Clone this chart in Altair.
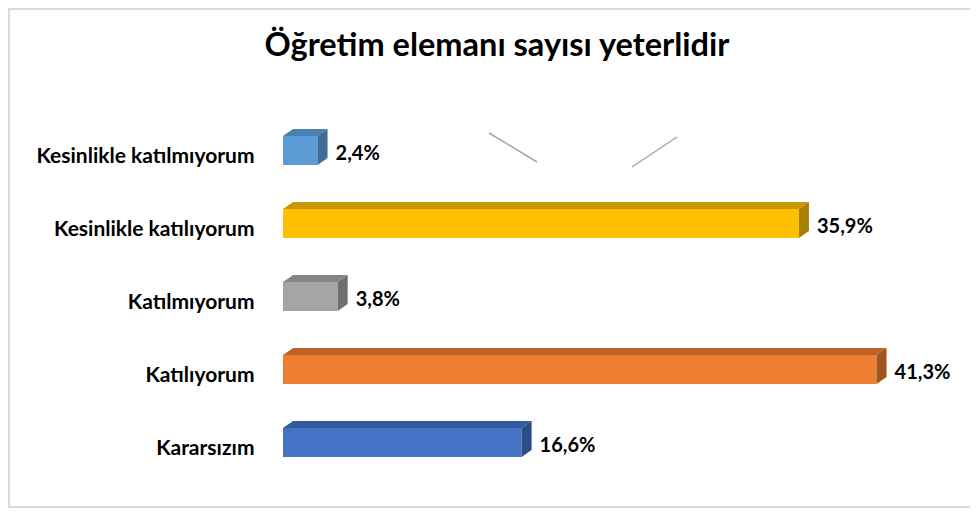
import json
import altair as alt
import pandas as pd

# ---- data -------------------------------------------------------------
title_text = "Öğretim elemanı sayısı yeterlidir"
categories = [
    "Kesinlikle katılmıyorum",
    "Kesinlikle katılıyorum",
    "Katılmıyorum",
    "Katılıyorum",
    "Kararsızım",
]
values = [2.4, 35.9, 3.8, 41.3, 16.6]
front_colors = ["#5B9BD5", "#FFC000", "#A5A5A5", "#ED7D31", "#4472C4"]
top_colors = ["#4A7FB0", "#C79700", "#858585", "#BE6327", "#345A9E"]
side_colors = ["#3E6C96", "#A87F00", "#6F6F6F", "#A2541F", "#2B4C86"]

# ---- geometry (data units) -------------------------------------------
HALF = 0.2          # half thickness of the bar front face (category units)
DX = 0.70           # depth in % units
DY = 0.096          # depth in category units
X_MAX = 46
Y_DOM = [-0.9, 4.89]
PX_PER_PCT = 14.37
PX_PER_CAT = 73
W = X_MAX * PX_PER_PCT
H = (Y_DOM[1] - Y_DOM[0]) * PX_PER_CAT
PAD_L, PAD_T = 275, 76.8
SVG_W, SVG_H = 962, 500

front = pd.DataFrame({
    "cat": categories,
    "idx": range(len(categories)),
    "v": values,
    "c": front_colors,
})
front["y0"] = front["idx"] - HALF
front["y1"] = front["idx"] + HALF
front["lab"] = [f"{v:.1f}".replace(".", ",") + "%" for v in values]

top_rows, side_rows = [], []
for i, (cat, v) in enumerate(zip(categories, values)):
    top_rows.append({"cat": cat, "y": i - HALF, "x0": 0, "x1": v, "c": top_colors[i]})
    top_rows.append({"cat": cat, "y": i - HALF - DY, "x0": DX, "x1": v + DX, "c": top_colors[i]})
    side_rows.append({"cat": cat, "x": v, "y0": i - HALF, "y1": i + HALF, "c": side_colors[i]})
    side_rows.append({"cat": cat, "x": v + DX, "y0": i - HALF - DY, "y1": i + HALF - DY, "c": side_colors[i]})
top = pd.DataFrame(top_rows)
side = pd.DataFrame(side_rows)

xscale = alt.Scale(domain=[0, X_MAX], nice=False, zero=False)
yscale = alt.Scale(domain=Y_DOM, reverse=True, nice=False, zero=False)

label_expr = json.dumps(categories, ensure_ascii=False) + "[datum.value]"

yaxis = alt.Axis(
    values=list(range(len(categories))),
    labelExpr=label_expr,
    title=None, domain=False, ticks=False, grid=False,
    labelFont="Lato", labelFontWeight="bold", labelFontSize=21, labelLimit=400,
    labelColor="#000000", labelPadding=29, labelOffset=6,
)

bars = alt.Chart(front).mark_rect().encode(
    x=alt.X("v0:Q", scale=xscale, axis=None),
    x2="v:Q",
    y=alt.Y("y0:Q", scale=yscale, axis=yaxis),
    y2="y1:Q",
    color=alt.Color("c:N", scale=None),
).transform_calculate(v0="0")

tops = alt.Chart(top).mark_area(orient="horizontal").encode(
    y=alt.Y("y:Q", scale=yscale, axis=yaxis),
    x=alt.X("x0:Q", scale=xscale, axis=None),
    x2="x1:Q",
    detail="cat:N",
    color=alt.Color("c:N", scale=None),
)

sides = alt.Chart(side).mark_area(orient="vertical").encode(
    x=alt.X("x:Q", scale=xscale, axis=None),
    y=alt.Y("y0:Q", scale=yscale, axis=yaxis),
    y2="y1:Q",
    detail="cat:N",
    color=alt.Color("c:N", scale=None),
)

labels = alt.Chart(front).mark_text(
    align="left", baseline="middle", dx=8, dy=3,
    font="Lato", fontWeight="bold", fontSize=20, color="#000000",
).encode(
    x=alt.X("vt:Q", scale=xscale, axis=None),
    y=alt.Y("idx:Q", scale=yscale, axis=yaxis),
    text="lab:N",
).transform_calculate(vt=f"datum.v + {DX}")

frame = alt.Chart(front).mark_rect(fillOpacity=0, stroke="#D9D9D9", strokeWidth=1.5).encode(
    x=alt.value(-PAD_L + 0.8), x2=alt.value(W + 80),
    y=alt.value(-PAD_T + 0.8), y2=alt.value(SVG_H - 1 - PAD_T),
)

# chart title as a text mark centred where the reference shows it
title_df = pd.DataFrame({"t": [title_text]})
title_mark = alt.Chart(title_df).mark_text(
    font="Lato", fontSize=32.5, fontWeight="bold", color="#000000",
    align="center", baseline="alphabetic",
).encode(
    x=alt.value(497 - 283), y=alt.value(56 - 84.8), text="t:N",
)

# decorative stray strokes seen in the reference
deco = pd.DataFrame({"x": [489 - 283, 632 - 283], "x2": [537 - 283, 677 - 283],
                     "y": [133 - 84.8, 167 - 84.8], "y2": [162 - 84.8, 137 - 84.8]})
strokes = alt.Chart(deco).mark_rule(color="#A6A6A6", strokeWidth=1.5).encode(
    x=alt.X("x:Q", scale=None), x2="x2:Q",
    y=alt.Y("y:Q", scale=None), y2="y2:Q",
)

chart = alt.layer(frame, strokes, title_mark, bars, tops, sides, labels).properties(
    width=W, height=H,
    autosize=alt.AutoSizeParams(type="none"),
    padding={"left": PAD_L, "top": PAD_T, "right": SVG_W - PAD_L - W,
             "bottom": SVG_H - PAD_T - H},
).configure_view(stroke=None)

chart.save("out.html", embed_options={"renderer": "svg", "actions": False})
